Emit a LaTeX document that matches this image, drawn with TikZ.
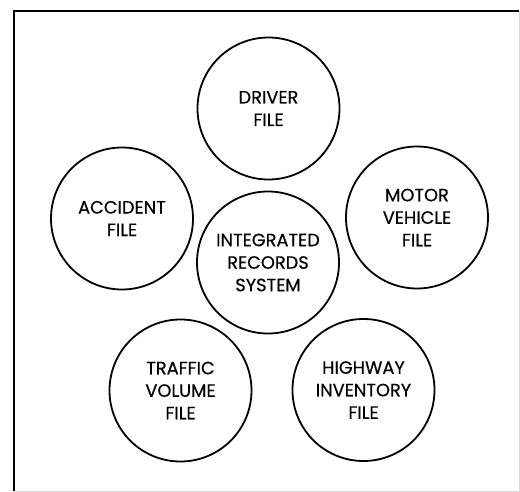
\documentclass[tikz,border=0pt]{standalone}
\usepackage{fontspec}
\newfontfamily\filefont{Poppins}[FakeBold=0.45]
\begin{document}
\begin{tikzpicture}[x=1pt,y=-1pt,
  filecircle/.style={draw=black, line width=1.8pt, circle, minimum size=142pt,
    inner sep=0pt, align=center, text=black,
    font=\filefont\fontsize{17.8}{22.5}\selectfont}]
\useasboundingbox (0,0) rectangle (520,492);
% frame
\draw[line width=1.8pt] (14,491) -- (14,11) -- (519,11);
\draw[line width=0.8pt, black!15] (519,11) -- (519,491) -- (14,491);
% files
\node[filecircle] (driver)   at (268.5,108.5) {DRIVER\\FILE};
\node[filecircle] (accident) at (122,218.5)   {ACCIDENT\\FILE};
\node[filecircle] (motor)    at (417,217.5)   {MOTOR\\VEHICLE\\FILE};
\node[filecircle] (irs)      at (268,262.5)   {INTEGRATED\\RECORDS\\SYSTEM};
\node[filecircle] (traffic)  at (180.5,390.5) {TRAFFIC\\VOLUME\\FILE};
\node[filecircle] (highway)  at (363.5,390)   {HIGHWAY\\INVENTORY\\FILE};
\end{tikzpicture}
\end{document}
